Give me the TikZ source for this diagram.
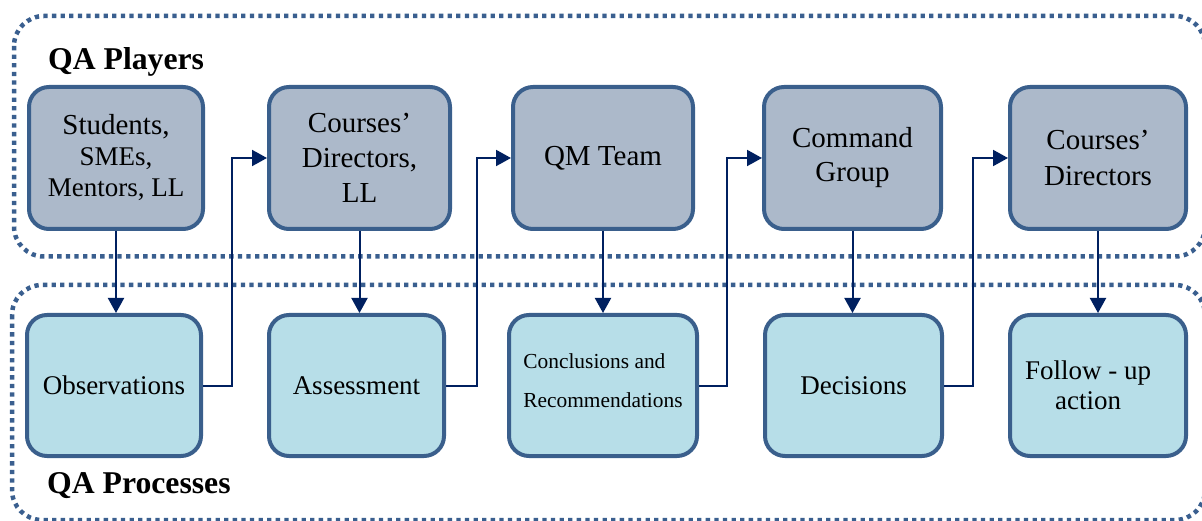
\documentclass[tikz,border=0pt]{standalone}
\usepackage{fontspec}
\setmainfont{Liberation Serif}
\usetikzlibrary{arrows.meta}

\definecolor{playerfill}{HTML}{ACB9CA}
\definecolor{processfill}{HTML}{B7DEE8}
\definecolor{boxline}{HTML}{3A5F8C}
\definecolor{groupline}{HTML}{3A5F8F}
\definecolor{flowline}{HTML}{002060}

\tikzset{
  player/.style={draw=boxline, line width=4pt, fill=playerfill, rounded corners=20pt,
    minimum height=142pt, align=center, inner sep=0pt, font=\fontsize{29}{35}\selectfont},
  process/.style={draw=boxline, line width=4pt, fill=processfill, rounded corners=20pt,
    minimum height=141pt, align=center, inner sep=0pt, font=\fontsize{27}{30}\selectfont},
  group/.style={draw=groupline, line width=4.5pt, dash pattern=on 4.3pt off 4.3pt, rounded corners=30pt},
  flow/.style={draw=flowline, line width=2pt, -{Triangle[length=15pt,width=16pt]}},
  grouptitle/.style={anchor=base west, inner sep=0pt, font=\bfseries\fontsize{31.7}{36}\selectfont},
}

\begin{document}
\begin{tikzpicture}[x=1pt, y=-1pt]
  \useasboundingbox (0,0) rectangle (1202,521);
  \clip (0,0) rectangle (1202,521);

  % dotted group frames
  \draw[group] (14,16) rectangle (1205,256.5);
  \draw[group] (12,285) rectangle (1205,520);

  \node[grouptitle] (tplayers) at (48,70) {QA Players};
  \node[grouptitle] (tprocesses) at (47,493) {QA Processes};

  % players (upper row)
  \node[player, minimum width=174pt, font=\fontsize{29}{31}\selectfont] (p1) at (116,158)
    {Students,\\{\fontsize{27}{31}\selectfont SMEs,}\\{\fontsize{27}{31}\selectfont Mentors, LL}};
  \node[player, minimum width=181pt] (p2) at (359.5,158) {Courses’\\Directors,\\LL};
  \node[player, minimum width=180pt] (p3) at (603,158) {QM Team};
  \node[player, minimum width=177pt, font=\fontsize{29}{34}\selectfont] (p4) at (852.5,158) {Command\\Group};
  \node[player, minimum width=176pt, font=\fontsize{29}{36}\selectfont] (p5) at (1098,158) {Courses’\\Directors};

  % processes (lower row)
  \node[process, minimum width=174pt] (q1) at (114,385.5) {Observations};
  \node[process, minimum width=175pt] (q2) at (356.5,385.5) {Assessment};
  \node[process, minimum width=188pt, align=left, font=\fontsize{21.4}{39}\selectfont] (q3) at (603,385.5)
    {Conclusions and\\Recommendations\rule[-10pt]{0pt}{10pt}};
  \node[process, minimum width=177pt] (q4) at (853.5,385.5) {Decisions};
  \node[process, minimum width=176pt] (q5) at (1098,385.5)
    {Follow - up\hspace*{20pt}\\action\hspace*{20pt}};

  % player -> process
  \foreach \i in {1,...,5}
    \draw[flow] (p\i.south) -- (p\i.south |- q\i.north);

  % process -> next player
  \draw[flow] (q1.east) -| ([xshift=-35pt]p2.west) -- (p2.west);
  \draw[flow] (q2.east) -| ([xshift=-34pt]p3.west) -- (p3.west);
  \draw[flow] (q3.east) -| ([xshift=-35pt]p4.west) -- (p4.west);
  \draw[flow] (q4.east) -| ([xshift=-35pt]p5.west) -- (p5.west);
\end{tikzpicture}
\end{document}
